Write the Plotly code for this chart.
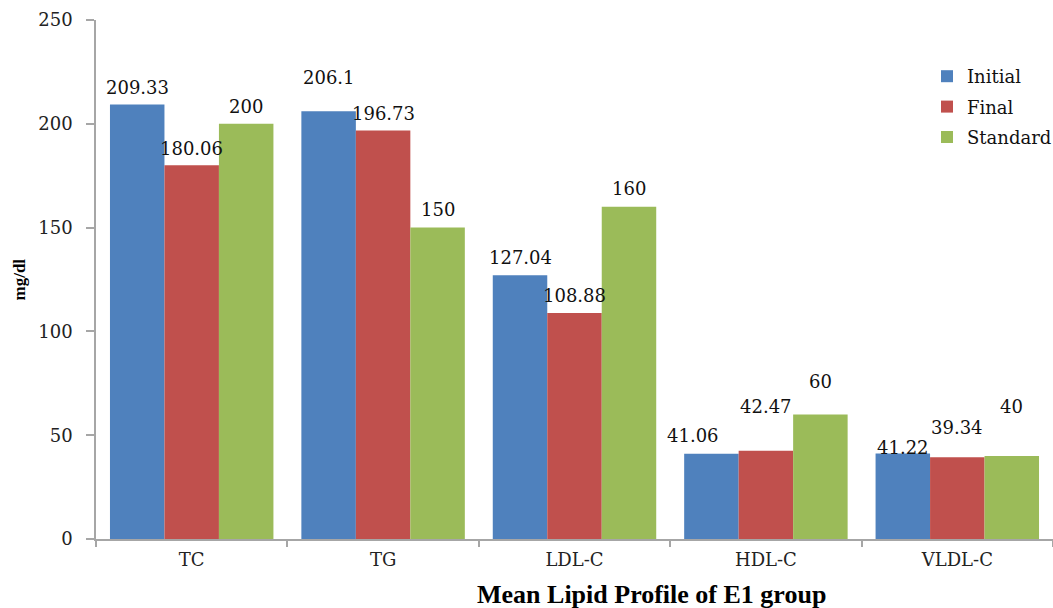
import plotly.graph_objects as go

# Lipid parameters and group means (mg/dl)
categories = ["TC", "TG", "LDL-C", "HDL-C", "VLDL-C"]
initial = [209.33, 206.1, 127.04, 41.06, 41.22]
final = [180.06, 196.73, 108.88, 42.47, 39.34]
standard = [200, 150, 160, 60, 40]
series_names = ["Initial", "Final", "Standard"]
y_ticks = [0, 50, 100, 150, 200, 250]

colors = ["#4F81BD", "#C0504D", "#9BBB59"]

# Figure geometry
W, H = 1053, 608
M_L, M_R, M_T, M_B = 96, 0, 20, 69
BARGAP = 0.146

# Per-label nudges in pixels (vertical lift of the label centre above the bar top,
# and horizontal nudge), to keep overlapping labels readable
label_lift = [
    [17, 34, 18, 18, 6],   # Initial
    [17, 17, 17, 44, 30],  # Final
    [17, 18, 18, 33, 49],  # Standard
]
label_nudge_x = [
    [0, 0, 0, -18, 0],
    [0, 0, 0, 0, 0],
    [0, 0, 0, 0, 0],
]

serif = "DejaVu Serif"
axis_grey = "#A6A6A6"

fig = go.Figure()
all_series = [initial, final, standard]
for name, vals, col in zip(series_names, all_series, colors):
    fig.add_trace(go.Bar(
        x=categories, y=vals, name=name, legendgroup=name,
        marker=dict(color=col, line=dict(width=0)),
    ))

# Value labels placed over each bar
plot_w = W - M_L - M_R
cat_w = plot_w / len(categories)
bar_w = cat_w * (1 - BARGAP) / len(all_series)
annotations = []
for si, vals in enumerate(all_series):
    offset = (si - (len(all_series) - 1) / 2) * bar_w
    for ci, (cat, v) in enumerate(zip(categories, vals)):
        annotations.append(dict(
            x=cat, y=v, xref="x", yref="y", text=f"{v:g}",
            showarrow=False, xanchor="center", yanchor="middle",
            xshift=offset + label_nudge_x[si][ci], yshift=label_lift[si][ci],
            font=dict(family=serif, size=18, color="#111111"),
        ))

plot_h = H - M_T - M_B
# Axis title
annotations.append(dict(
    x=(19 - M_L) / plot_w, y=0.5, xref="paper", yref="paper",
    text="<b>mg/dl</b>", textangle=-90, showarrow=False,
    xanchor="center", yanchor="middle",
    font=dict(family="Liberation Serif", size=17, color="#000000"),
))
# Chart caption below the axis
annotations.append(dict(
    x=(651 - M_L) / plot_w, y=-(594 - (H - M_B)) / plot_h, xref="paper", yref="paper",
    text="<b>Mean Lipid Profile of E1 group</b>", showarrow=False,
    xanchor="center", yanchor="middle",
    font=dict(family="Liberation Serif", size=26, color="#000000"),
))

fig.update_layout(
    width=W, height=H,
    margin=dict(l=M_L, r=M_R, t=M_T, b=M_B, pad=0, autoexpand=False),
    paper_bgcolor="white", plot_bgcolor="white",
    barmode="group", bargap=BARGAP, bargroupgap=0,
    showlegend=True,
    legend=dict(
        x=(927 - M_L) / plot_w, y=1 - (58 - M_T) / plot_h,
        xanchor="left", yanchor="top",
        font=dict(family=serif, size=18, color="#111111"),
        bgcolor="rgba(0,0,0,0)", tracegroupgap=4, traceorder="grouped",
    ),
    annotations=annotations,
)

fig.update_xaxes(
    showline=True, linecolor=axis_grey, linewidth=1.5,
    ticks="outside", tickson="boundaries", ticklen=6, tickcolor=axis_grey, tickwidth=1.5,
    showgrid=False, zeroline=False,
    tickfont=dict(family=serif, size=18, color="#222222"),
    ticklabelstandoff=4,
)
fig.update_yaxes(
    range=[0, 250], tickvals=y_ticks,
    showline=True, linecolor=axis_grey, linewidth=1.5,
    ticks="outside", ticklen=8, tickcolor=axis_grey, tickwidth=1.5,
    showgrid=False, zeroline=False,
    tickfont=dict(family=serif, size=18, color="#222222"),
    ticklabelstandoff=10,
)

fig.write_html("out.html")
